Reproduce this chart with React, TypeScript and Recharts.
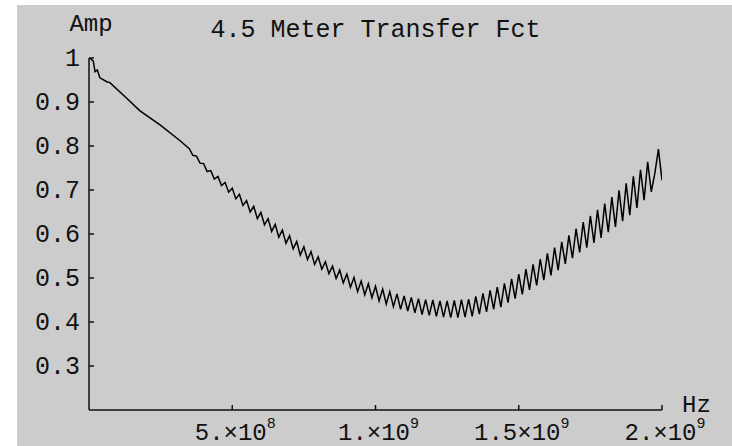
import React from 'react';
import { LineChart, Line, XAxis, YAxis } from 'recharts';

const FONT = "'Liberation Mono', 'DejaVu Sans Mono', monospace";
const INK = '#111';

// Smooth start of the curve (frequency in MHz, amplitude)
const smoothFreqMHz = [0, 3, 15, 21, 29, 38, 62, 73, 126, 178, 248, 318];
const smoothAmp = [1.0, 1.0, 0.993, 0.969, 0.973, 0.955, 0.946, 0.944, 0.912, 0.88, 0.848, 0.812];

// Oscillating part, sampled every 12.5 MHz starting at 350 MHz
const OSC_START_MHZ = 350;
const OSC_STEP_MHZ = 12.5;
const oscAmp = [
  0.794, 0.779, 0.777, 0.761, 0.760, 0.742, 0.744, 0.725, 0.731, 0.710,
  0.717, 0.695, 0.704, 0.680, 0.690, 0.665, 0.676, 0.650, 0.663, 0.635,
  0.649, 0.621, 0.635, 0.606, 0.622, 0.593, 0.609, 0.579, 0.596, 0.566,
  0.583, 0.552, 0.571, 0.542, 0.560, 0.531, 0.548, 0.520, 0.537, 0.510,
  0.527, 0.499, 0.518, 0.489, 0.509, 0.479, 0.501, 0.469, 0.493, 0.462,
  0.487, 0.455, 0.481, 0.448, 0.475, 0.441, 0.469, 0.435, 0.464, 0.429,
  0.459, 0.425, 0.456, 0.421, 0.453, 0.417, 0.451, 0.415, 0.450, 0.413,
  0.448, 0.411, 0.448, 0.410, 0.449, 0.410, 0.451, 0.411, 0.452, 0.413,
  0.458, 0.418, 0.465, 0.423, 0.472, 0.429, 0.479, 0.434, 0.488, 0.444,
  0.498, 0.453, 0.509, 0.463, 0.520, 0.473, 0.531, 0.483, 0.543, 0.495,
  0.556, 0.506, 0.569, 0.518, 0.582, 0.532, 0.597, 0.545, 0.612, 0.558,
  0.627, 0.569, 0.641, 0.580, 0.655, 0.591, 0.669, 0.604, 0.684, 0.616,
  0.699, 0.629, 0.715, 0.643, 0.731, 0.659, 0.746, 0.677, 0.764, 0.696,
  0.738, 0.793, 0.722,
];

const xTicks = [500, 1000, 1500, 2000];
const xTickMantissa = ['5.', '1.', '1.5', '2.'];
const xTickExponent = ['8', '9', '9', '9'];
const yTicks = [0.3, 0.4, 0.5, 0.6, 0.7, 0.8, 0.9, 1];
const yTickLabels = ['0.3', '0.4', '0.5', '0.6', '0.7', '0.8', '0.9', '1'];

const TITLE = '4.5 Meter Transfer Fct';
const X_LABEL = 'Hz';
const Y_LABEL = 'Amp';

const data = [
  ...smoothFreqMHz.map((f, i) => ({ f, amp: smoothAmp[i] })),
  ...oscAmp.map((a, i) => ({ f: OSC_START_MHZ + i * OSC_STEP_MHZ, amp: a })),
];

const Y_TICK_MARGIN = 9;

const YTick = (props: any) => {
  const { x, y, payload } = props;
  const i = yTicks.findIndex((t) => Math.abs(t - payload.value) < 1e-6);
  const axisX = x + Y_TICK_MARGIN;
  return (
    <g>
      <line x1={axisX} x2={axisX + 5} y1={y} y2={y} stroke={INK} strokeWidth={1.5} />
      <text x={x} y={y} dy={8} textAnchor="end" fontFamily={FONT} fontSize={25} fill={INK}>
        {yTickLabels[i]}
      </text>
    </g>
  );
};

const XTick = (props: any) => {
  const { x, y, payload } = props;
  const i = xTicks.findIndex((t) => Math.abs(t - payload.value) < 1e-6);
  return (
    <g>
      <line x1={x} x2={x} y1={y} y2={y - 5} stroke={INK} strokeWidth={1.5} />
      <text x={x + 3} y={y + 30} textAnchor="middle" fontFamily={FONT} fontSize={24} fill={INK}>
        <tspan>{xTickMantissa[i] + '\u00d710'}</tspan>
        <tspan dx={0} dy={-12} fontSize={15}>{xTickExponent[i]}</tspan>
      </text>
    </g>
  );
};

const XExtras = (props: any) => {
  const vb = props.viewBox || { x: 72, y: 405, width: 573, height: 36 };
  return (
    <g>
      <text x={vb.x + vb.width + 20} y={vb.y + 2} fontFamily={FONT} fontSize={24} fill={INK}>
        {X_LABEL}
      </text>
      <text x={vb.x + vb.width / 2} y={31.5} textAnchor="middle" fontFamily={FONT} fontSize={25} fill={INK}>
        {TITLE}
      </text>
    </g>
  );
};

const YExtras = (props: any) => {
  const vb = props.viewBox || { x: 0, y: 53, width: 72, height: 352 };
  return (
    <text x={vb.x + vb.width + 2} y={vb.y - 27} textAnchor="middle" fontFamily={FONT} fontSize={24} fill={INK}>
      {Y_LABEL}
    </text>
  );
};

export default function App() {
  return (
    <div style={{ position: 'absolute', left: 0, top: 0, width: 732, height: 446, background: '#ffffff' }}>
      <div style={{ position: 'absolute', left: 17, top: 5, width: 715, height: 441, background: '#cccccc' }}>
        <LineChart
          width={715}
          height={441}
          data={data}
          margin={{ top: 53, right: 70, bottom: 0, left: 0 }}
        >
          <XAxis
            dataKey="f"
            type="number"
            domain={[0, 2000]}
            ticks={xTicks}
            allowDataOverflow
            height={36}
            tickSize={0}
            tickMargin={0}
            tickLine={false}
            axisLine={{ stroke: INK, strokeWidth: 1.5 }}
            tick={<XTick />}
            interval={0}
            label={<XExtras />}
          />
          <YAxis
            type="number"
            domain={[0.2, 1]}
            ticks={yTicks}
            allowDataOverflow
            width={72}
            tickSize={0}
            tickMargin={Y_TICK_MARGIN}
            tickLine={false}
            axisLine={{ stroke: INK, strokeWidth: 1.5 }}
            tick={<YTick />}
            interval={0}
            label={<YExtras />}
          />
          <Line
            type="linear"
            dataKey="amp"
            stroke="#000"
            strokeWidth={1.5}
            dot={false}
            isAnimationActive={false}
          />
        </LineChart>
      </div>
    </div>
  );
}
